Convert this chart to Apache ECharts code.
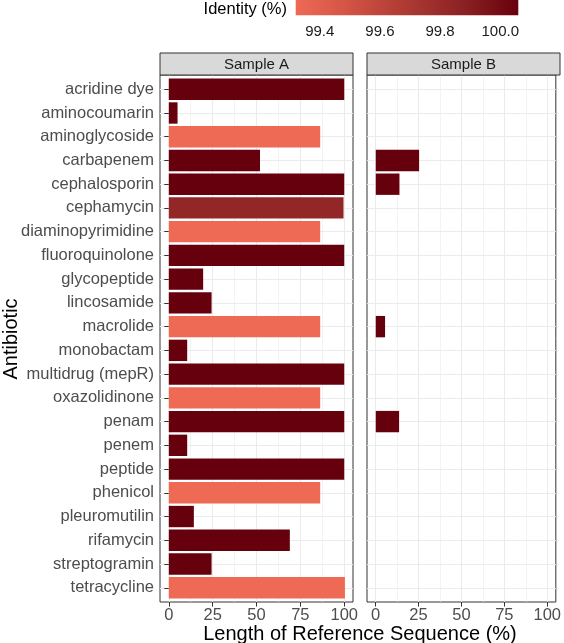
<!DOCTYPE html>
<html><head><meta charset="utf-8">
<script src="https://cdn.jsdelivr.net/npm/echarts@6/dist/echarts.min.js"></script>
<style>html,body{margin:0;padding:0;background:#fff}#c{width:564px;height:643px}</style>
</head><body><div id="c"></div>
<script>
const categories = ['acridine dye','aminocoumarin','aminoglycoside','carbapenem','cephalosporin','cephamycin','diaminopyrimidine','fluoroquinolone','glycopeptide','lincosamide','macrolide','monobactam','multidrug (mepR)','oxazolidinone','penam','penem','peptide','phenicol','pleuromutilin','rifamycin','streptogramin','tetracycline'];
const lengthA   = [100, 5, 86.3, 52, 100, 99.6, 86.3, 100, 19.6, 24.4, 86.3, 10.5, 100, 86.3, 100, 10.5, 100, 86.3, 14.3, 69, 24.4, 100.4];
const identityA = [100, 100, 99.28, 100, 100, 99.78, 99.28, 100, 100, 100, 99.28, 100, 100, 99.28, 100, 100, 100, 99.28, 100, 100, 100, 99.28];
const lengthB   = [null, null, null, 24.7, 13.5, null, null, null, null, null, 5.3, null, null, null, 13.3, null, null, null, null, null, null, null];
const identityB = [null, null, null, 100, 100, null, null, null, null, null, 100, null, null, null, 100, null, null, null, null, null, null, null];
const panelNames = ['Sample A', 'Sample B'];
const xTicks = [0, 25, 50, 75, 100];
const xMinorTicks = [12.5, 37.5, 62.5, 87.5];
const identityTicks = [99.4, 99.6, 99.8, 100.0];
const identityRange = [99.28, 100.0];
const legendAxisRange = [99.32, 100.06];
const palette = ['#EE6A55', '#D15244', '#AD3A33', '#8B2223', '#67000D'];

const FONT = '"Liberation Sans", Arial, Helvetica, sans-serif';
const chart = echarts.init(document.getElementById('c'), null, {renderer: 'canvas'});

const panelTop = 75, panelH = 527, panelW = 193;
const panelLeft = [160, 367];
const unit = panelH / 22.2;
const catIdx = categories.map((_, i) => i + 1);

function toData(len, idn) {
  const out = [];
  len.forEach((v, i) => { if (v != null) out.push([v, categories[i], idn[i]]); });
  return out;
}

const grids = [], xAxes = [], yAxes = [];
panelLeft.forEach((L, p) => {
  grids.push({left: L, top: panelTop, width: panelW, height: panelH, show: true,
    borderColor: '#333333', borderWidth: 1, backgroundColor: '#ffffff', containLabel: false});
});
panelLeft.forEach((L, p) => {
  grids.push({left: L, top: panelTop + 0.1 * unit, width: panelW, height: 22 * unit, containLabel: false});
});
grids.push({left: 295.7, top: 0, width: 222.6, height: 15.3, show: true, borderWidth: 0,
  backgroundColor: new echarts.graphic.LinearGradient(0, 0, 1, 0,
    palette.map((c, i) => ({offset: i / (palette.length - 1), color: c})))});

[0, 1].forEach(g => {
  xAxes.push({type: 'value', gridIndex: g, min: -5, max: 105, position: 'bottom',
    axisLine: {show: false},
    axisTick: {show: true, customValues: xTicks, length: 4.5, lineStyle: {color: '#333333', width: 1}},
    axisLabel: {show: true, customValues: xTicks, color: '#4d4d4d', fontSize: 16.5, fontFamily: FONT, margin: 5},
    splitLine: {show: true, lineStyle: {color: '#ebebeb', width: 1.1}}});
  xAxes.push({type: 'value', gridIndex: g, min: -5, max: 105, position: 'top',
    axisLine: {show: false},
    axisTick: {show: false, customValues: xMinorTicks},
    axisLabel: {show: false},
    splitLine: {show: true, lineStyle: {color: '#ebebeb', width: 0.6}}});
});
[2, 3].forEach(g => {
  xAxes.push({type: 'value', gridIndex: g, min: -5, max: 105, show: false});
});
xAxes.push({type: 'value', gridIndex: 4, min: legendAxisRange[0], max: legendAxisRange[1], position: 'bottom',
  axisLine: {show: false}, axisTick: {show: false}, splitLine: {show: false},
  axisLabel: {show: true, customValues: identityTicks, formatter: v => v.toFixed(1),
    color: '#1a1a1a', fontSize: 15, fontFamily: FONT, margin: 9}});

[0, 1].forEach(g => {
  yAxes.push({type: 'value', gridIndex: g, min: 0.4, max: 22.6, inverse: true,
    axisLine: {show: false}, axisLabel: {show: false},
    axisTick: {show: false, customValues: catIdx},
    splitLine: {show: true, lineStyle: {color: '#ebebeb', width: 1.1}}});
});
yAxes.push({type: 'category', gridIndex: 2, data: categories, inverse: true,
  axisLine: {show: false},
  axisTick: {show: true, alignWithLabel: true, length: 4.5, lineStyle: {color: '#333333', width: 1}},
  axisLabel: {show: true, color: '#4d4d4d', fontSize: 16.5, fontFamily: FONT, margin: 6, interval: 0},
  splitLine: {show: false}});
yAxes.push({type: 'category', gridIndex: 3, data: categories, inverse: true, show: false});
yAxes.push({type: 'value', gridIndex: 4, show: false});

const option = {
  animation: false,
  backgroundColor: '#ffffff',
  grid: grids,
  xAxis: xAxes,
  yAxis: yAxes,
  visualMap: {type: 'continuous', show: false, min: identityRange[0], max: identityRange[1],
    dimension: 2, seriesIndex: [0, 1], inRange: {color: palette}},
  series: [
    {type: 'bar', xAxisIndex: 4, yAxisIndex: 2, barWidth: '90%', data: toData(lengthA, identityA),
      encode: {x: 0, y: 1}, silent: true},
    {type: 'bar', xAxisIndex: 5, yAxisIndex: 3, barWidth: '90%', data: toData(lengthB, identityB),
      encode: {x: 0, y: 1}, silent: true}
  ],
  graphic: [
    ...panelLeft.map((L, p) => ({type: 'rect', silent: true, z: 10,
      shape: {x: L, y: 53, width: panelW, height: 22},
      style: {fill: '#d9d9d9', stroke: '#333333', lineWidth: 1}})),
    ...panelLeft.map((L, p) => ({type: 'text', silent: true, z: 11, x: L + panelW / 2, y: 64.5,
      style: {text: panelNames[p], fill: '#1a1a1a', font: '15px ' + FONT, textAlign: 'center', textVerticalAlign: 'middle'}})),
    {type: 'text', silent: true, x: 360, y: 634.5,
      style: {text: 'Length of Reference Sequence (%)', fill: '#000', font: '20px ' + FONT, textAlign: 'center', textVerticalAlign: 'middle'}},
    {type: 'text', silent: true, x: 11, y: 339, rotation: Math.PI / 2,
      style: {text: 'Antibiotic', fill: '#000', font: '20px ' + FONT, textAlign: 'center', textVerticalAlign: 'middle'}},
    {type: 'text', silent: true, x: 287, y: 9,
      style: {text: 'Identity (%)', fill: '#000', font: '16.5px ' + FONT, textAlign: 'right', textVerticalAlign: 'middle'}}
  ]
};
chart.setOption(option);
</script></body></html>
